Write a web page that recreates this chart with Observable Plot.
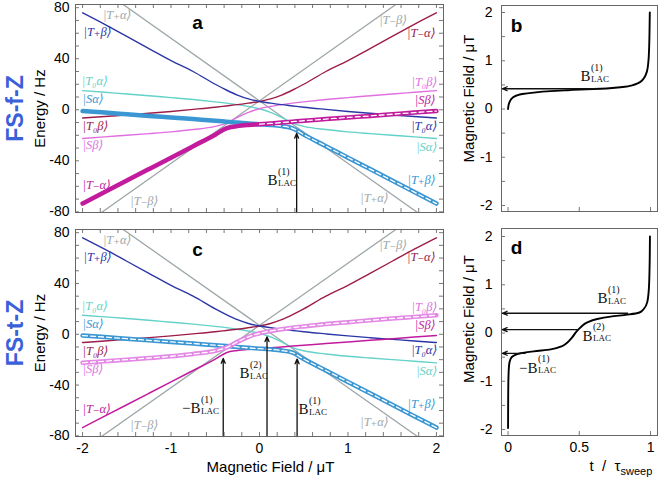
<!DOCTYPE html>
<html><head><meta charset="utf-8">
<script src="https://cdn.jsdelivr.net/npm/d3@7"></script>
<script src="https://cdn.jsdelivr.net/npm/@observablehq/plot@0.6"></script>
<style>
body{margin:0;background:#fff;}
#wrap{position:relative;width:661px;height:482px;overflow:hidden;background:#fff;}
#wrap svg{position:absolute;}
</style></head><body><div id="wrap"></div>
<script>
// ---------- data ----------
const fieldB = [-2,-1.75,-1.5,-1.25,-1,-0.75,-0.5,-0.375,-0.25,-0.125,0,0.125,0.25,0.375,0.5,0.75,1,1.25,1.5,1.75,2];
const eT0bTma = [-6.5,-5.3,-4.0,-2.7,-1.3,0.3,2.0,3.0,4.0,5.2,6.5,8.5,11.5,15.5,20,30,38.5,48,57.5,67,76];
const eTpbT0a = [76,67,57.5,48,38.5,30,20,15.5,11.5,8.5,6.5,5.2,4.0,3.0,2.0,0.3,-1.3,-2.7,-4.0,-5.3,-6.5];
const eT0aSa  = [15,13.7,12.4,11,9.5,8,6.2,5.2,4.0,2.6,0.8,-2,-6,-10.5,-13,-15.5,-17.3,-18.7,-20,-21.2,-22.5];
const eSbT0b  = [-22.5,-21.2,-20,-18.7,-17.3,-15.5,-13,-10.5,-6,-2,0.8,2.6,4.0,5.2,6.2,8,9.5,11,12.4,13.7,15];
const eTmaSb  = [-73.5,-64.5,-55.5,-46.5,-37.5,-28.5,-19.5,-14.5,-12.8,-11.9,-11.3,-10.7,-10,-9.3,-8.6,-7.3,-6,-4.8,-3.5,-2.2,-1];
const eSaTpb  = [-1,-2.2,-3.5,-4.8,-6,-7.3,-8.6,-9.3,-10,-10.7,-11.3,-11.9,-12.8,-14.5,-19.5,-28.5,-37.5,-46.5,-55.5,-64.5,-73.5];
const grayB   = [-2, 2];
const eTpa    = [105, -91];
const eTmb    = [-91, 105];

const sweepT_b = [0,0.005,0.015,0.03,0.06,0.1,0.18,0.3,0.42,0.55,0.65,0.75,0.82,0.87,0.91,0.94,0.96,0.975,0.985,0.99,0.993,0.995];
const sweepB_b = [0.0,0.1,0.17,0.23,0.28,0.31,0.34,0.37,0.39,0.41,0.42,0.44,0.46,0.49,0.53,0.59,0.67,0.78,0.98,1.25,1.6,2.0];
const sweepT_d = [0.0,0.001,0.003,0.007,0.017,0.04,0.088,0.18,0.3,0.38,0.415,0.45,0.48,0.51,0.556,0.626,0.72,0.836,0.918,0.953,0.977,0.988,0.993,0.996];
const sweepB_d = [-1.97,-1.3,-0.9,-0.67,-0.54,-0.47,-0.42,-0.38,-0.34,-0.27,-0.2,-0.09,0.03,0.12,0.22,0.29,0.34,0.38,0.42,0.5,0.64,0.9,1.3,2.0];

const energyTicks = [-80,-40,0,40,80];
const fieldTicks = [-2,-1,0,1,2];
const energyMinor = [-80,-70,-60,-50,-40,-30,-20,-10,0,10,20,30,40,50,60,70,80];
const fieldMinor = [-2,-1.8,-1.6,-1.4,-1.2,-1,-0.8,-0.6,-0.4,-0.2,0,0.2,0.4,0.6,0.8,1,1.2,1.4,1.6,1.8,2];
const tTicks = [0,0.5,1];
const sweepTicks = [-2,-1,0,1,2];
const sweepMinor = [-2,-1.5,-1,-0.5,0,0.5,1,1.5,2];

// ket labels: [text, B, E, anchor, colorKey]
const ketLabels = [
  ["|T₊α⟩",-1.77,73.9,"start","gray"],
  ["|T₊β⟩",-1.99,60.6,"start","navy"],
  ["|T₀α⟩",-2.01,22.2,"start","teal"],
  ["|Sα⟩",-2.0,8.1,"start","sky"],
  ["|T₀β⟩",-2.0,-13.1,"start","crimson"],
  ["|Sβ⟩",-2.0,-27.3,"start","violet"],
  ["|T₋α⟩",-2.0,-58.6,"start","magenta"],
  ["|T₋β⟩",-1.46,-71.1,"start","gray"],
  ["|T₋β⟩",1.67,70.5,"end","gray"],
  ["|T₋α⟩",1.99,60.5,"end","crimson"],
  ["|T₀β⟩",2.01,21.4,"end","violet"],
  ["|Sβ⟩",1.99,7.3,"end","magenta"],
  ["|T₀α⟩",2.01,-12.5,"end","navy"],
  ["|Sα⟩",2.01,-29,"end","teal"],
  ["|T₊β⟩",1.99,-55,"end","sky"],
  ["|T₊α⟩",1.46,-68.8,"end","gray"]
];
// LAC annotations: [prefix, n, x, y]
const lacA = [["", "1", 0.203, -55.4]];
const lacC = [["−", "1", -0.667, -58.4], ["", "2", -0.113, -30.9], ["", "1", 0.554, -59.2]];
const lacB = [["", "1", 0.579, 0.674]];
const lacD = [["", "1", 0.698, 0.715], ["", "2", 0.593, -0.062], ["−", "1", 0.207, -0.725]];
const arrowsA = [[0.42, -80.5, 0.42, -18.5]];
const arrowsC = [[-0.41, -80.5, -0.41, -19], [0.085, -80.5, 0.085, -2], [0.425, -80.5, 0.425, -19.5]];
const arrowsB = [[0.62, 0.42, -0.04, 0.42]];
const arrowsD = [[0.84, 0.41, -0.04, 0.41], [0.49, 0.07, -0.04, 0.07], [0.12, -0.42, -0.04, -0.42]];

// ---------- styling ----------
const COL = {gray:"#9ea7aa", navy:"#2b36a6", crimson:"#9c1c4a", teal:"#63d2c8", violet:"#e070e2",
             magenta:"#c21b9e", sky:"#3a97d3", violetThick:"#e488e6"};
const sans = "Liberation Sans, Arial, Helvetica, sans-serif";
const serif = "Liberation Serif, DejaVu Serif, serif";

function rows(xs, ys) { return xs.map((b, i) => ({B: b, E: ys[i]})); }
function line(data, color, w, extra = {}) {
  return Plot.line(data, {x: "B", y: "E", stroke: color, strokeWidth: w, curve: "monotone-x", clip: true, ...extra});
}
function label(str, opts) {
  return Plot.text([str], {text: d => d, textAnchor: "middle", lineAnchor: "middle", fontFamily: sans, fill: "#000", ...opts});
}
function lacMarks(list, bSize) {
  const d = list.map(([p, n, x, y]) => ({p, n, x, y}));
  return [
    Plot.text(d, {x: "x", y: "y", text: r => r.p + "B", textAnchor: "end", lineAnchor: "middle", fontSize: bSize, fontFamily: serif, fill: "#111"}),
    Plot.text(d, {x: "x", y: "y", text: r => "(" + r.n + ")", textAnchor: "start", lineAnchor: "middle", dx: 0.5, dy: -9, fontSize: 10, fontFamily: serif, fill: "#111"}),
    Plot.text(d, {x: "x", y: "y", text: () => "LAC", textAnchor: "start", lineAnchor: "middle", dx: 0.5, dy: 2.5, fontSize: 9, fontFamily: serif, fill: "#111"})
  ];
}
function arrowMarks(list) {
  const d = list.map(([x1, y1, x2, y2]) => ({x1, y1, x2, y2}));
  return Plot.arrow(d, {x1: "x1", y1: "y1", x2: "x2", y2: "y2", stroke: "#111", strokeWidth: 1.3, headLength: 6, headAngle: 45});
}

function energyPlot(panel) {
  const isA = panel === "a";
  const height = isA ? 216 : 258, mTop = isA ? 4 : 5, mBottom = isA ? 4 : 46;
  const innerW = 368, innerH = height - mTop - mBottom;
  const R = rows(fieldB, eT0bTma), D = rows(fieldB, eTpbT0a), Cy = rows(fieldB, eT0aSa),
        P = rows(fieldB, eSbT0b), M = rows(fieldB, eTmaSb), S = rows(fieldB, eSaTpb);
  const marks = [
    line(rows(grayB, eTpa), COL.gray, 1.3, {curve: "linear"}),
    line(rows(grayB, eTmb), COL.gray, 1.3, {curve: "linear"}),
    line(Cy, COL.teal, 1.4),
  ];
  if (isA) marks.push(line(P, COL.violet, 1.4));
  marks.push(line(R, COL.crimson, 1.4), line(D, COL.navy, 1.4));
  if (isA) {
    marks.push(
      line(S, COL.sky, 4.5),
      line(S.filter(r => r.B >= 0), "#fff", 1.3, {strokeDasharray: "5,3"}),
      line(M, COL.magenta, 4.5),
      line(M.filter(r => r.B >= 0), "#fff", 1.3, {strokeDasharray: "5,3"})
    );
  } else {
    marks.push(
      line(M, COL.magenta, 1.5),
      line(S, COL.sky, 4.5),
      line(S, "#fff", 1.3, {strokeDasharray: "5,3"}),
      line(P, COL.violetThick, 4.5),
      line(P, "#fff", 1.3, {strokeDasharray: "5,3"})
    );
  }
  const kd = ketLabels.map(([t, x, y, a, c]) => ({t, x, y, a, c}));
  marks.push(
    Plot.text(kd.filter(d => d.a === "start"), {x: "x", y: "y", text: "t", fill: d => COL[d.c], textAnchor: "start", lineAnchor: "middle", fontSize: 12.5, fontStyle: "italic", fontFamily: serif}),
    Plot.text(kd.filter(d => d.a === "end"), {x: "x", y: "y", text: "t", fill: d => COL[d.c], textAnchor: "end", lineAnchor: "middle", fontSize: 12.5, fontStyle: "italic", fontFamily: serif}),
    arrowMarks(isA ? arrowsA : arrowsC),
    ...lacMarks(isA ? lacA : lacC, 15),
    Plot.tickY(energyMinor, {y: d => d, insetRight: innerW - 4, stroke: "#555", strokeWidth: 0.8}),
    Plot.tickY(energyMinor, {y: d => d, insetLeft: innerW - 4, stroke: "#555", strokeWidth: 0.8}),
    Plot.tickX(fieldMinor, {x: d => d, insetTop: innerH - 4, stroke: "#555", strokeWidth: 0.8}),
    Plot.tickX(fieldMinor, {x: d => d, insetBottom: innerH - 4, stroke: "#555", strokeWidth: 0.8}),
    Plot.frame({stroke: "#666", strokeWidth: 1}),
    Plot.axisY(energyTicks, {anchor: "left", tickSize: 0, tickPadding: 6, fontSize: 14, fontFamily: sans, tickFormat: d => String(d), label: null, fill: "#000"}),
    label(isA ? "a" : "c", {frameAnchor: "top-left", dx: 122, dy: isA ? 18 : 20, fontSize: 19, fontWeight: "bold"}),
    label("Energy / Hz", {frameAnchor: "left", dx: -35, rotate: -90, fontSize: 15}),
    label(isA ? "FS-f-Z" : "FS-t-Z", {frameAnchor: "left", dx: -60, rotate: -90, fontSize: 23, fontWeight: "bold", fill: "#3a60da"})
  );
  if (!isA) {
    marks.push(
      Plot.axisX(fieldTicks, {anchor: "bottom", tickSize: 0, tickPadding: 7, fontSize: 14, fontFamily: sans, tickFormat: d => String(d), label: null, fill: "#000"}),
      label("Magnetic Field / μT", {frameAnchor: "bottom", dx: 11, dy: 31, fontSize: 15})
    );
  }
  const p = Plot.plot({
    width: 450, height, marginLeft: 75, marginRight: 7, marginTop: mTop, marginBottom: mBottom,
    x: {domain: [-2.08, 2.08], axis: null},
    y: {domain: [-80.5, 82.5], axis: null},
    style: {fontFamily: sans, background: "transparent", overflow: "visible"},
    marks
  });
  p.style.left = "0px";
  p.style.top = isA ? "0px" : "224px";
  return p;
}

function sweepPlot(panel) {
  const isB = panel === "b";
  const height = isB ? 216 : 258, mTop = isB ? 5 : 4, mBottom = isB ? 5 : 47;
  const innerW = 156, innerH = height - mTop - mBottom;
  const data = isB ? rows(sweepT_b, sweepB_b) : rows(sweepT_d, sweepB_d);
  const marks = [
    Plot.tickY(sweepMinor, {y: d => d, insetRight: innerW - 4, stroke: "#555", strokeWidth: 0.8}),
    Plot.tickX(tTicks, {x: d => d, insetTop: innerH - 4, stroke: "#555", strokeWidth: 0.8}),
    Plot.frame({stroke: "#666", strokeWidth: 1}),
    Plot.line(data, {x: "B", y: "E", stroke: "#000", strokeWidth: 1.9, curve: "monotone-y"}),
    arrowMarks(isB ? arrowsB : arrowsD),
    ...lacMarks(isB ? lacB : lacD, 15),
    Plot.axisY(sweepTicks, {anchor: "left", tickSize: 0, tickPadding: 9, fontSize: 14, fontFamily: sans, tickFormat: d => String(d), label: null, fill: "#000"}),
    label(isB ? "b" : "d", {frameAnchor: "top-left", dx: 15, dy: isB ? 20 : 19, fontSize: 19, fontWeight: "bold"}),
    label("Magnetic Field / μT", {frameAnchor: "left", dx: -32, dy: isB ? -10 : -13, rotate: -90, fontSize: 15})
  ];
  if (!isB) {
    marks.push(
      Plot.axisX(tTicks, {anchor: "bottom", tickSize: 0, tickPadding: 7, fontSize: 14, fontFamily: sans, tickFormat: d => String(d), label: null, fill: "#000"}),
      label("t\u00a0\u00a0/\u00a0\u00a0τ", {frameAnchor: "bottom", dx: 41, dy: 31, textAnchor: "end", fontSize: 15}),
      label("sweep", {frameAnchor: "bottom", dx: 41, dy: 36, textAnchor: "start", fontSize: 11})
    );
  }
  const p = Plot.plot({
    width: 206, height, marginLeft: 46, marginRight: 4, marginTop: mTop, marginBottom: mBottom,
    x: {domain: [-0.046, 1.049], axis: null},
    y: {domain: isB ? [-2.124, 2.145] : [-2.124, 2.166], axis: null},
    style: {fontFamily: sans, background: "transparent", overflow: "visible"},
    marks
  });
  p.style.left = "455px";
  p.style.top = isB ? "0px" : "224px";
  return p;
}

const wrap = document.getElementById("wrap");
wrap.append(energyPlot("a"), energyPlot("c"), sweepPlot("b"), sweepPlot("d"));
</script>
</body></html>
